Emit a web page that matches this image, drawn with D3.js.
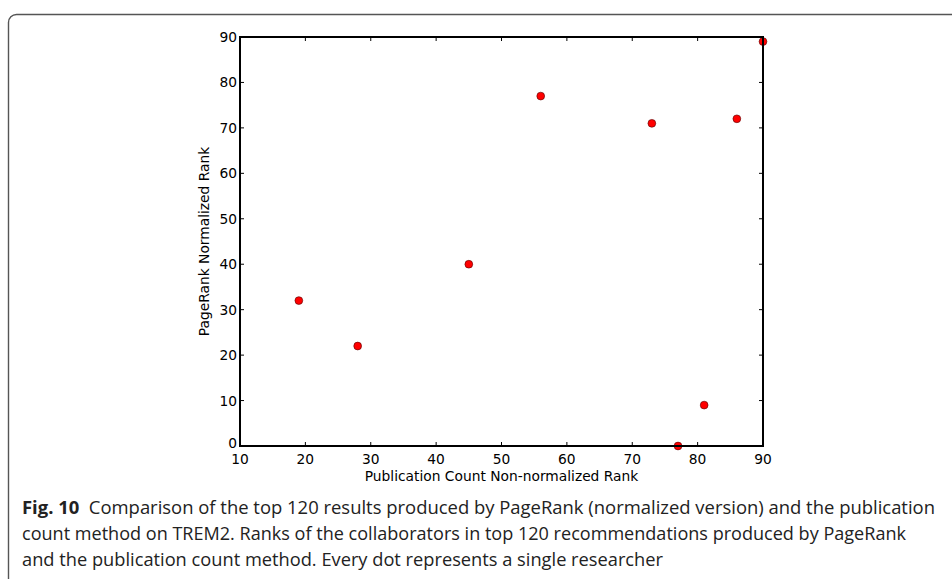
<!DOCTYPE html>
<html><head><meta charset="utf-8">
<script src="https://cdn.jsdelivr.net/npm/d3@7"></script>
<style>html,body{margin:0;padding:0;background:#fff;}svg{display:block;}</style>
</head><body>
<script>
const xValues = [19, 28, 45, 56, 73, 86, 90, 77, 81];
const yValues = [32, 22, 40, 77, 71, 72, 89, 0, 9];
const xTicks = [10, 20, 30, 40, 50, 60, 70, 80, 90];
const yTicks = [0, 10, 20, 30, 40, 50, 60, 70, 80, 90];
const xLabel = "Publication Count Non-normalized Rank";
const yLabel = "PageRank Normalized Rank";
const captionLines = [
  ["Fig. 10", "  Comparison of the top 120 results produced by PageRank (normalized version) and the publication"],
  ["", "count method on TREM2. Ranks of the collaborators in top 120 recommendations produced by PageRank"],
  ["", "and the publication count method. Every dot represents a single researcher"]
];

const W = 952, H = 579;
const svg = d3.select("body").append("svg").attr("width", W).attr("height", H);

svg.append("rect").attr("x", 8.5).attr("y", 14.5).attr("width", 1000).attr("height", 700)
  .attr("rx", 8).attr("fill", "none").attr("stroke", "#555").attr("stroke-width", 1.4);

const L = 240, R = 763, T = 37, B = 446;
const x = d3.scaleLinear().domain([10, 90]).range([L, R]);
const y = d3.scaleLinear().domain([0, 90]).range([B, T]);
const font = "DejaVu Sans, sans-serif";
const fs = 13.8;

const g = svg.append("g");
const tl = 4;
xTicks.forEach(v => {
  g.append("line").attr("x1", x(v)).attr("x2", x(v)).attr("y1", B).attr("y2", B - tl).attr("stroke", "#000").attr("stroke-width", 1);
  g.append("line").attr("x1", x(v)).attr("x2", x(v)).attr("y1", T).attr("y2", T + tl).attr("stroke", "#000").attr("stroke-width", 1);
  g.append("text").attr("x", x(v)).attr("y", B + 17.5).attr("text-anchor", "middle")
    .attr("font-family", font).attr("font-size", fs).text(v);
});
yTicks.forEach(v => {
  g.append("line").attr("y1", y(v)).attr("y2", y(v)).attr("x1", L).attr("x2", L + tl).attr("stroke", "#000").attr("stroke-width", 1);
  g.append("line").attr("y1", y(v)).attr("y2", y(v)).attr("x1", R).attr("x2", R - tl).attr("stroke", "#000").attr("stroke-width", 1);
  g.append("text").attr("x", L - 3).attr("y", y(v) + (v === 0 ? 2 : 5))
    .attr("text-anchor", "end")
    .attr("font-family", font).attr("font-size", fs).text(v);
});

g.selectAll("circle.pt").data(xValues.map((d, i) => [d, yValues[i]])).enter()
  .append("circle").attr("class", "pt")
  .attr("cx", d => x(d[0])).attr("cy", d => y(d[1])).attr("r", 3.9)
  .attr("fill", "#ff0000").attr("stroke", "#550000").attr("stroke-width", 0.6);

g.append("rect").attr("x", L).attr("y", T).attr("width", R - L).attr("height", B - T)
  .attr("fill", "none").attr("stroke", "#000").attr("stroke-width", 2);

svg.append("text").attr("x", (L + R) / 2).attr("y", 481).attr("text-anchor", "middle")
  .attr("font-family", font).attr("font-size", fs).text(xLabel);
svg.append("text").attr("transform", `translate(209,${(T + B) / 2}) rotate(-90)`).attr("text-anchor", "middle")
  .attr("font-family", font).attr("font-size", fs).text(yLabel);

const lineY = [514, 540, 566];
const lineEnds = [935, 906, 663];
captionLines.forEach((ln, i) => {
  const t = svg.append("text").attr("x", 22).attr("y", lineY[i])
    .attr("font-family", "Open Sans, sans-serif").attr("font-size", 18).attr("fill", "#222")
    .attr("textLength", lineEnds[i] - 22).attr("lengthAdjust", "spacingAndGlyphs")
    .attr("xml:space", "preserve").style("white-space", "pre");
  if (ln[0]) t.append("tspan").attr("font-weight", "bold").text(ln[0]);
  t.append("tspan").text(ln[1]);
});
</script>
</body></html>
